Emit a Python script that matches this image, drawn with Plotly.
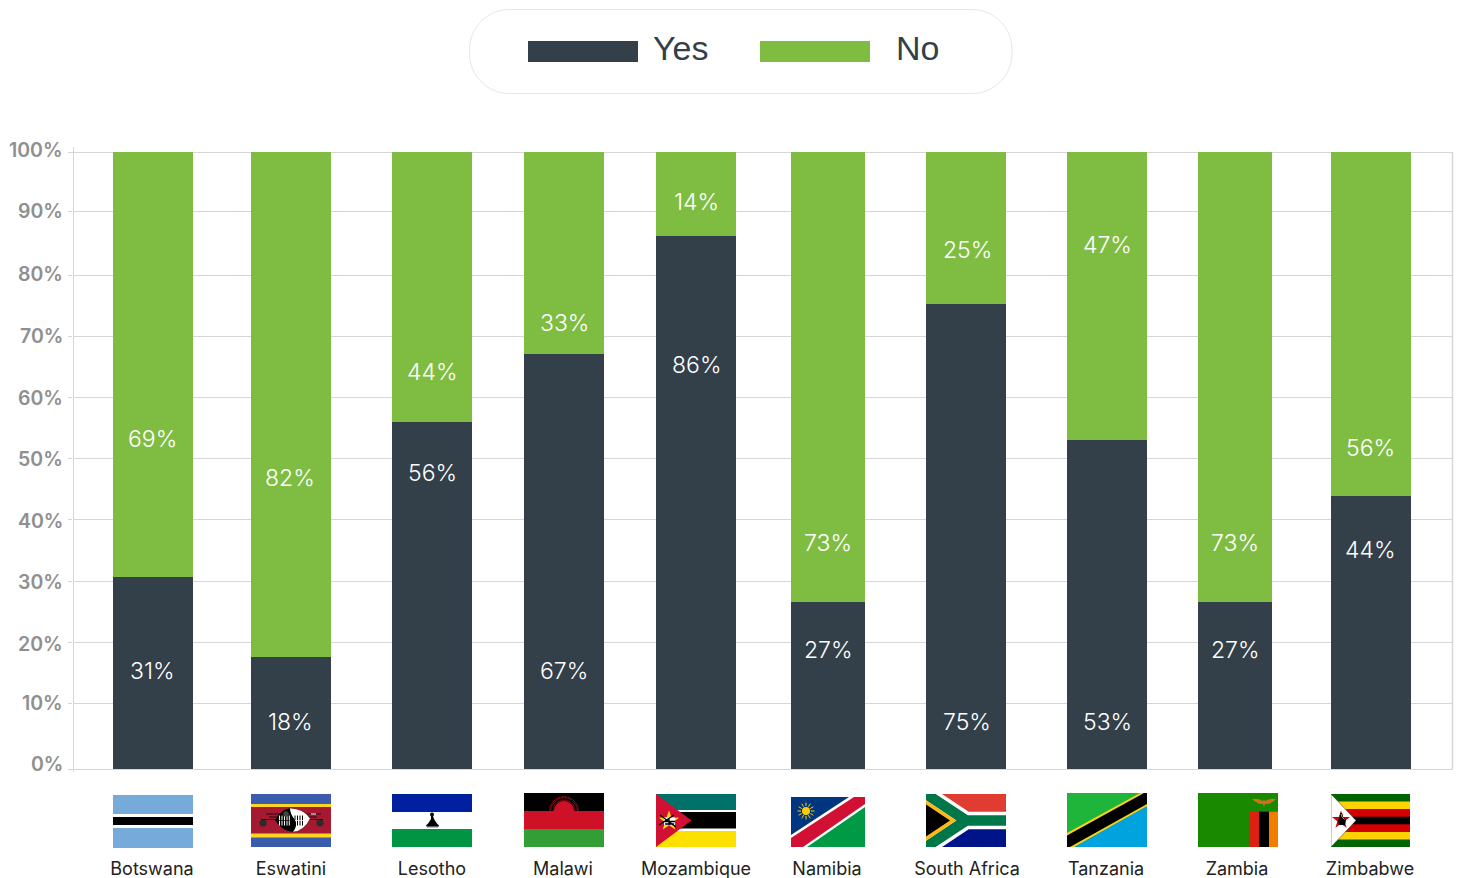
import base64
import math
import plotly.graph_objects as go

# Survey results: share answering yes / no, by country
countries = ["Botswana", "Eswatini", "Lesotho", "Malawi", "Mozambique",
             "Namibia", "South Africa", "Tanzania", "Zambia", "Zimbabwe"]
yes_values = [31, 18, 56, 67, 86, 27, 75, 53, 27, 44]
no_values = [69, 82, 44, 33, 14, 73, 25, 47, 73, 56]

# Height on the percentage axis at which each value label sits
yes_label_heights = [15.8, 7.6, 47.7, 15.8, 65.2, 19.2, 7.6, 7.6, 19.2, 35.3]
no_label_heights = [53.2, 46.9, 64.0, 71.9, 91.5, 36.5, 83.7, 84.5, 36.5, 51.8]

percent_labels = ["0%", "10%", "20%", "30%", "40%", "50%", "60%", "70%", "80%", "90%", "100%"]
# Where each gridline falls on the percentage axis
grid_positions = [0, 10.6, 20.4, 30.2, 40.2, 50.1, 59.9, 69.8, 79.6, 89.9, 99.5]
tick_label_shifts = [5, 0, -1, 0, -1, -1, 0, 0, 1, 1, 2]

# Layout geometry, in page pixels
W, H = 1458, 878
PLOT_L, PLOT_R, PLOT_T, PLOT_B = 73, 1453, 152, 769
bar_centres = [153, 291, 432, 564, 696, 828, 966, 1107, 1235, 1371]
bar_widths = [80, 80, 80, 80, 80, 74, 80, 80, 74, 80]
value_label_centres = [152, 290, 432, 564, 696, 828, 967, 1107, 1235, 1370]
name_centres = [152, 291, 432, 563, 696, 827, 967, 1106, 1237, 1370]
flag_boxes = [(113, 795, 80, 53), (251, 794, 80, 53), (392, 794, 80, 53), (524, 793, 80, 54),
              (656, 794, 80, 53), (791, 797, 74, 50), (926, 794, 80, 53), (1067, 793, 80, 54),
              (1198, 793, 80, 54), (1331, 794, 79, 53)]

DARK = "#333f49"
GREEN = "#7fbd42"
GRID = "#d6d6d6"
SANS = "Inter, Lato, sans-serif"


def px(x):
    return (x - PLOT_L) / (PLOT_R - PLOT_L)


def py(y):
    return (PLOT_B - y) / (PLOT_B - PLOT_T)


def star(cx, cy, r, fill):
    pts = []
    for i in range(10):
        a = -math.pi / 2 + i * math.pi / 5
        rr = r if i % 2 == 0 else r * 0.4
        pts.append(f"{cx + rr * math.cos(a):.2f},{cy + rr * math.sin(a):.2f}")
    return f'<polygon points="{" ".join(pts)}" fill="{fill}"/>'


def sun_rays(cx, cy, r0, r1, n, color):
    out = []
    for i in range(n):
        a = 2 * math.pi * i / n
        out.append(f'<line x1="{cx + r0 * math.cos(a):.2f}" y1="{cy + r0 * math.sin(a):.2f}" '
                   f'x2="{cx + r1 * math.cos(a):.2f}" y2="{cy + r1 * math.sin(a):.2f}" '
                   f'stroke="{color}" stroke-width="1"/>')
    return "".join(out)


def malawi_rays():
    out = []
    for i in range(31):
        a = math.pi + math.pi * i / 30
        out.append(f'<line x1="{40 + 10 * math.cos(a):.2f}" y1="{18 + 10 * math.sin(a):.2f}" '
                   f'x2="{40 + 15 * math.cos(a):.2f}" y2="{18 + 15 * math.sin(a):.2f}" '
                   f'stroke="#ce1126" stroke-width="0.7"/>')
    return "".join(out)


FLAGS = {
    "Botswana": (80, 53,
        '<rect width="80" height="53" fill="#75aadb"/>'
        '<rect y="19" width="80" height="14" fill="#fff"/>'
        '<rect y="22" width="80" height="8" fill="#000"/>'),
    "Eswatini": (80, 53,
        '<rect width="80" height="53" fill="#3a5cab"/>'
        '<rect y="10" width="80" height="33.5" fill="#ffd520"/>'
        '<rect y="13" width="80" height="26.5" fill="#a51931"/>'
        '<path d="M15 20 H70 M18 23 H66 M10 25.5 H72" stroke="#2a0b10" stroke-width="1.1" fill="none"/>'
        '<path d="M60 20 h5" stroke="#fff" stroke-width="1"/>'
        '<circle cx="12" cy="29" r="3.6" fill="#2b2b2b"/><circle cx="69" cy="29" r="3.6" fill="#2b2b2b"/>'
        '<path d="M24 26 Q31 14.3 40 14.3 Q53 15 59 24.5 Q53 37 42 37.7 Q32 38 24 26Z" fill="#000"/>'
        '<path d="M39 14.3 Q53 15 59 24.5 Q53 37 42 37.7 Q47 32 44 26 Q39 20 39 14.3Z" fill="#fff"/>'
        '<path d="M28.5 21.5v10 M31 21.5v10 M33.5 21.5v10 M36 21.5v10 M38.3 21.5v10" stroke="#fff" stroke-width="1" fill="none"/>'
        '<path d="M44 21.5v10 M46.5 21.5v10 M49 21.5v10 M51.5 21.5v10" stroke="#000" stroke-width="1" fill="none"/>'
        '<path d="M28 26.5h10.5" stroke="#000" stroke-width=".7"/><path d="M44 26.5h8" stroke="#fff" stroke-width=".7"/>'
        '<circle cx="35" cy="20" r="2.8" fill="#444"/>'),
    "Lesotho": (80, 53,
        '<rect width="80" height="18" fill="#00209f"/>'
        '<rect y="18" width="80" height="17" fill="#fff"/>'
        '<rect y="35" width="80" height="18" fill="#009543"/>'
        '<circle cx="40" cy="20.5" r="2" fill="#000"/>'
        '<path d="M39 22 h2 l1 3 l2.5 4 l2.5 2.5 l-1 1.8 h-11 l-1 -1.8 l2.5 -2.5 l2.5 -4z" fill="#000"/>'
        '<path d="M34 32.6h12" stroke="#fff" stroke-width=".4"/>'),
    "Malawi": (80, 54,
        '<rect width="80" height="18" fill="#000"/>'
        '<rect y="18" width="80" height="18" fill="#ce1126"/>'
        '<rect y="36" width="80" height="18" fill="#339e35"/>'
        + malawi_rays() +
        '<path d="M30 18 a10 10 0 0 1 20 0z" fill="#ce1126"/>'
        '<path d="M28 18 a12 12 0 0 1 24 0" fill="none" stroke="#000" stroke-width="1.5"/>'),
    "Mozambique": (80, 53,
        '<rect width="80" height="16" fill="#007168"/>'
        '<rect y="16" width="80" height="21" fill="#fff"/>'
        '<rect y="18" width="80" height="16.5" fill="#000"/>'
        '<rect y="37" width="80" height="16" fill="#fce100"/>'
        '<polygon points="0,0 35.5,26.5 0,53" fill="#d21034"/>'
        + star(13, 27, 10.5, "#fce100") +
        '<rect x="8" y="23.5" width="11" height="7.5" fill="#fff"/>'
        '<path d="M3 31 L18 21 M4 21 L20 33 M8 27.5 h11 M13 24 v7 M9 30 h9" stroke="#000" stroke-width="1.3" fill="none"/>'),
    "Namibia": (74, 50,
        '<rect width="74" height="50" fill="#fff"/>'
        '<polygon points="0,0 58,0 0,38" fill="#003580"/>'
        '<polygon points="74,10 74,50 16,50" fill="#009a44"/>'
        '<polygon points="0,41 63,0 74,0 74,7 12,50 0,50" fill="#d21034"/>'
        + sun_rays(15, 14, 4, 8.5, 12, "#ffce00") +
        '<circle cx="15" cy="14" r="5" fill="#003580"/><circle cx="15" cy="14" r="4" fill="#ffce00"/>'),
    "South Africa": (80, 53,
        '<svg viewBox="0 0 9 6" width="80" height="53" preserveAspectRatio="none">'
        '<rect width="9" height="3" fill="#e03c31"/>'
        '<rect y="3" width="9" height="3" fill="#001489"/>'
        '<path d="M0 0 L4.5 3 H9 M0 6 L4.5 3" fill="none" stroke="#fff" stroke-width="2"/>'
        '<path d="M0 0 L4.5 3 H9 M0 6 L4.5 3" fill="none" stroke="#007749" stroke-width="1.2"/>'
        '<polygon points="0,0.72 3.42,3 0,5.28" fill="#ffb81c"/>'
        '<polygon points="0,1.2 2.7,3 0,4.8" fill="#000"/></svg>'),
    "Tanzania": (80, 54,
        '<rect width="80" height="54" fill="#1eb53a"/>'
        '<polygon points="7,54 80,13 80,54" fill="#00a3dd"/>'
        '<polygon points="0,40 73,0 80,0 80,13 7,54 0,54" fill="#fcd116"/>'
        '<polygon points="0,42.5 77,0 80,0 80,11 3,54 0,54" fill="#000"/>'),
    "Zambia": (80, 54,
        '<rect width="80" height="54" fill="#198a00"/>'
        '<rect x="51" y="18.7" width="10" height="35.3" fill="#de2010"/>'
        '<rect x="61" y="18.7" width="10" height="35.3" fill="#000"/>'
        '<rect x="71" y="18.7" width="9" height="35.3" fill="#ef7d00"/>'
        '<path d="M54 6 Q60 5 65 8 L66 6.5 L67 8 Q72 5 78 6 Q74 10 70 11 L67 11 L66 14 L65 11 L62 11 Q58 10 54 6Z" fill="#c8731a"/>'),
    "Zimbabwe": (79, 53,
        '<rect width="79" height="53" fill="#006400"/>'
        '<rect y="7.5" width="79" height="38" fill="#ffd200"/>'
        '<rect y="15" width="79" height="23" fill="#d40000"/>'
        '<rect y="22.7" width="79" height="7.6" fill="#000"/>'
        '<polygon points="0,0 25,26.5 0,53" fill="#fff" stroke="#333" stroke-width="0.5"/>'
        + star(10, 26, 9.5, "#d40000") +
        '<path d="M9 19 l2 0 l1 4 l3 3 l-1 5 h-6 l-1 -5 l2 -3z" fill="#000"/>'
        '<path d="M10 20 l1 3 l2.5 2.5" fill="none" stroke="#ffd200" stroke-width="0.8"/>'),
}


def flag_uri(name):
    w, h, body = FLAGS[name]
    svg = (f'<svg xmlns="http://www.w3.org/2000/svg" width="{w * 4}" height="{h * 4}" '
           f'viewBox="0 0 {w} {h}" preserveAspectRatio="none">{body}</svg>')
    return "data:image/svg+xml;base64," + base64.b64encode(svg.encode()).decode()


fig = go.Figure()
fig.add_bar(x=bar_centres, y=yes_values, width=bar_widths, name="Yes",
            marker=dict(color=DARK, line_width=0), showlegend=False)
fig.add_bar(x=bar_centres, y=no_values, width=bar_widths, name="No",
            marker=dict(color=GREEN, line_width=0), showlegend=False)

annotations = []
value_font = dict(family=SANS, size=23, color="#ffffff", weight=300)
for cx, v, ly in zip(value_label_centres, yes_values, yes_label_heights):
    annotations.append(dict(x=cx, y=ly, text=f"{v}%", showarrow=False, xref="x", yref="y", font=value_font))
for cx, v, ly in zip(value_label_centres, no_values, no_label_heights):
    annotations.append(dict(x=cx, y=ly, text=f"{v}%", showarrow=False, xref="x", yref="y", font=value_font))
for g, t, s in zip(grid_positions, percent_labels, tick_label_shifts):
    annotations.append(dict(x=px(65), y=g, text=t, showarrow=False, xref="paper", yref="y",
                            xanchor="right", yshift=s,
                            font=dict(family=SANS, size=19.5, color="#8f8f8f", weight=600)))
for lx, word in ((651, "Yes"), (894, "No")):
    annotations.append(dict(x=px(lx), y=py(48), text=word, showarrow=False, xref="paper", yref="paper",
                            xanchor="left", yanchor="middle",
                            font=dict(family="Liberation Sans", size=34, color=DARK)))

# Rounded legend pill drawn with cubic corners
pl, pr, pt, pb, rad = 469.5, 1012, 9.5, 93.5, 40
k = rad * 0.448
pts = lambda x, y: f"{px(x):.6f},{py(y):.6f}"
pill = ("M " + pts(pl + rad, pt) + " L " + pts(pr - rad, pt)
        + " C " + pts(pr - k, pt) + " " + pts(pr, pt + k) + " " + pts(pr, pt + rad)
        + " L " + pts(pr, pb - rad)
        + " C " + pts(pr, pb - k) + " " + pts(pr - k, pb) + " " + pts(pr - rad, pb)
        + " L " + pts(pl + rad, pb)
        + " C " + pts(pl + k, pb) + " " + pts(pl, pb - k) + " " + pts(pl, pb - rad)
        + " L " + pts(pl, pt + rad)
        + " C " + pts(pl, pt + k) + " " + pts(pl + k, pt) + " " + pts(pl + rad, pt) + " Z")

shapes = [
    dict(type="path", path=pill, xref="paper", yref="paper", line=dict(color="#e6e6e6", width=1)),
    dict(type="rect", xref="paper", yref="paper", x0=px(528), x1=px(638), y0=py(41), y1=py(62),
         fillcolor=DARK, line_width=0),
    dict(type="rect", xref="paper", yref="paper", x0=px(760), x1=px(870), y0=py(41), y1=py(62),
         fillcolor=GREEN, line_width=0),
    dict(type="line", xref="paper", yref="paper", x0=px(73.5), x1=px(73.5), y0=py(147), y1=py(772),
         line=dict(color=GRID, width=1), layer="below"),
    dict(type="line", xref="paper", yref="paper", x0=px(1452.5), x1=px(1452.5), y0=py(152), y1=py(769),
         line=dict(color=GRID, width=1.5), layer="below"),
    dict(type="line", xref="paper", yref="paper", x0=px(69), x1=px(1453), y0=py(152.5), y1=py(152.5),
         line=dict(color=GRID, width=1), layer="below"),
    dict(type="line", xref="paper", yref="paper", x0=px(69), x1=px(1453), y0=py(769.5), y1=py(769.5),
         line=dict(color=GRID, width=1), layer="below"),
]

images = []
for name, (x, y, w, h) in zip(countries, flag_boxes):
    images.append(dict(source=flag_uri(name), xref="paper", yref="paper", x=px(x), y=py(y),
                       sizex=w / (PLOT_R - PLOT_L), sizey=h / (PLOT_B - PLOT_T),
                       xanchor="left", yanchor="top", sizing="stretch", layer="above"))

fig.update_layout(
    width=W, height=H, barmode="stack", plot_bgcolor="#ffffff", paper_bgcolor="#ffffff",
    margin=dict(l=PLOT_L, r=W - PLOT_R, t=PLOT_T, b=H - PLOT_B, pad=0),
    annotations=annotations, shapes=shapes, images=images,
    xaxis=dict(range=[PLOT_L, PLOT_R], tickmode="array", tickvals=name_centres, ticktext=countries,
               showgrid=False, zeroline=False, showline=False, ticks="", automargin=False,
               ticklabelstandoff=87, tickfont=dict(family=SANS, size=18, color="#222222")),
    yaxis=dict(range=[0, 99.5], tickmode="array", tickvals=grid_positions, ticktext=[""] * 11,
               showgrid=True, gridcolor=GRID, gridwidth=1, zeroline=False, showline=False,
               ticks="outside", ticklen=4, tickcolor=GRID, automargin=False),
    bargap=0,
)

fig.write_html("out.html")
